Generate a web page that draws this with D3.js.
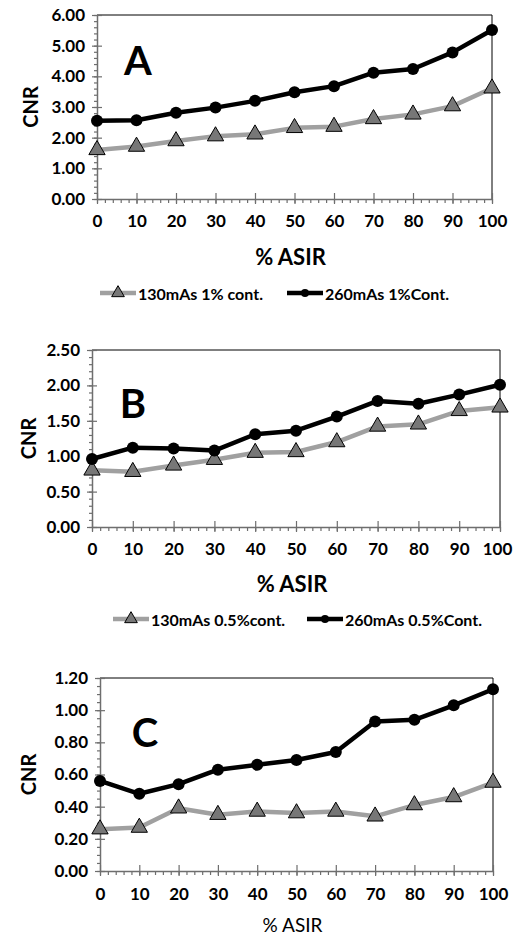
<!DOCTYPE html>
<html><head><meta charset="utf-8">
<script src="https://cdn.jsdelivr.net/npm/d3@7"></script>
<style>body{margin:0;background:#fff}svg{display:block}text{font-family:Lato,"Open Sans",sans-serif}</style>
</head><body>
<svg id="c" width="513" height="937"></svg>
<script>
const asir = [0,10,20,30,40,50,60,70,80,90,100];
const xTicks = [0,10,20,30,40,50,60,70,80,90,100];
// Panel A
const a130 = [1.60,1.71,1.89,2.05,2.11,2.32,2.36,2.61,2.76,3.03,3.61];
const a260 = [2.55,2.57,2.81,2.98,3.20,3.48,3.68,4.12,4.24,4.78,5.51];
const aYTicks = [0,1,2,3,4,5,6];
const aLegend = ["130mAs 1% cont.","260mAs 1%Cont."];
// Panel B
const b130 = [0.80,0.78,0.87,0.95,1.05,1.06,1.20,1.42,1.45,1.64,1.69];
const b260 = [0.96,1.12,1.11,1.08,1.31,1.36,1.56,1.78,1.74,1.87,2.01];
const bYTicks = [0,0.5,1,1.5,2,2.5];
const bLegend = ["130mAs 0.5%cont.","260mAs 0.5%Cont."];
// Panel C
const c130 = [0.26,0.27,0.39,0.35,0.37,0.36,0.37,0.34,0.41,0.46,0.55];
const c260 = [0.56,0.48,0.54,0.63,0.66,0.69,0.74,0.93,0.94,1.03,1.13];
const cYTicks = [0,0.2,0.4,0.6,0.8,1.0,1.2];

const svg = d3.select("#c");
const GRAY = "#a0a0a0", AX = "#6e6e6e";

function panel(o){
  const g = svg.append("g");
  const x = d3.scaleLinear().domain([0,100]).range([o.l,o.r]);
  const y = d3.scaleLinear().domain([0,o.ymax]).range([o.b,o.t]);
  g.append("line").attr("x1",o.l).attr("x2",o.r).attr("y1",o.t).attr("y2",o.t).attr("stroke","#000").attr("stroke-width",1);
  g.append("line").attr("x1",o.r).attr("x2",o.r).attr("y1",o.t).attr("y2",o.b).attr("stroke","#000").attr("stroke-width",1);
  const yMinor = d3.range(0, o.ymax+1e-9, o.minor);
  g.append("g").attr("transform",`translate(${o.l},0)`)
    .call(d3.axisLeft(y).tickValues(yMinor).tickSize(3).tickFormat(""))
    .call(s=>{s.select(".domain").remove();s.selectAll("line").attr("stroke",AX).attr("stroke-width",1.2);});
  const ya = g.append("g").attr("transform",`translate(${o.l},0)`)
    .call(d3.axisLeft(y).tickValues(o.yTicks).tickSizeInner(5).tickSizeOuter(0).tickPadding(7).tickFormat(d3.format(".2f")));
  ya.select(".domain").attr("stroke",AX).attr("stroke-width",1.5);
  ya.selectAll(".tick line").attr("stroke",AX).attr("stroke-width",1.2).attr("x2",5).attr("x1",-5);
  ya.selectAll("text").attr("font-size",o.tickFs).attr("font-weight","bold").attr("fill","#000");
  const xMinor = d3.range(0,101,2);
  g.append("g").attr("transform",`translate(0,${o.b})`)
    .call(d3.axisBottom(x).tickValues(xMinor).tickSize(4).tickFormat(""))
    .call(s=>{s.select(".domain").remove();s.selectAll("line").attr("stroke",AX).attr("stroke-width",1.2);});
  const xa = g.append("g").attr("transform",`translate(0,${o.b})`)
    .call(d3.axisBottom(x).tickValues(xTicks).tickSizeInner(5).tickSizeOuter(0).tickPadding(o.xPad));
  xa.select(".domain").attr("stroke",AX).attr("stroke-width",1.5);
  xa.selectAll(".tick line").attr("stroke",AX).attr("stroke-width",1.2).attr("y1",-6).attr("y2",5);
  xa.selectAll("text").attr("font-size",o.tickFs).attr("font-weight","bold").attr("fill","#000");
  if(o.lastDx) xa.selectAll("text").filter(d=>d===100).attr("dx",o.lastDx);
  g.append("text").attr("transform",`translate(${o.cnrX},${(o.t+o.b)/2}) rotate(-90)`)
    .attr("text-anchor","middle").attr("dominant-baseline","central")
    .attr("font-size",20).attr("font-weight","bold").text("CNR");
  g.append("text").attr("x",(o.l+o.r)/2-4).attr("y",o.xtY).attr("text-anchor","middle").attr("dominant-baseline","central")
    .attr("font-size",o.xtFs).attr("font-weight",o.xtBold?"bold":"normal").text("% ASIR");
  g.append("text").attr("x",o.letX).attr("y",o.letY).attr("text-anchor","middle").attr("dominant-baseline","central")
    .attr("font-size",40).attr("font-weight","bold").text(o.letter);
  const line = d3.line().x((d,i)=>x(asir[i])).y(d=>y(d));
  g.append("path").datum(o.s1).attr("d",line).attr("fill","none").attr("stroke",GRAY).attr("stroke-width",4.5).attr("stroke-linejoin","round");
  g.append("path").datum(o.s2).attr("d",line).attr("fill","none").attr("stroke","#000").attr("stroke-width",4.5).attr("stroke-linejoin","round");
  const tri = d3.symbol().type(d3.symbolTriangle).size(115);
  g.selectAll(".t").data(o.s1).join("path").attr("d",tri)
    .attr("transform",(d,i)=>`translate(${x(asir[i])},${y(d)})`)
    .attr("fill","#777").attr("stroke","#000").attr("stroke-width",1);
  g.selectAll(".c").data(o.s2).join("circle").attr("cx",(d,i)=>x(asir[i])).attr("cy",d=>y(d)).attr("r",6).attr("fill","#000");
  if(o.legend){
    const L=o.leg;
    const lg = g.append("g");
    lg.append("line").attr("x1",L.x1).attr("x2",L.x1+36).attr("y1",L.y).attr("y2",L.y).attr("stroke",GRAY).attr("stroke-width",4.5);
    lg.append("path").attr("d",d3.symbol().type(d3.symbolTriangle).size(70)).attr("transform",`translate(${L.x1+18},${L.y})`).attr("fill","#777").attr("stroke","#000").attr("stroke-width",1);
    lg.append("text").attr("x",L.x1+38).attr("y",L.y).attr("dominant-baseline","central").attr("font-size",16).attr("font-weight","bold").text(o.legend[0]);
    lg.append("line").attr("x1",L.x2).attr("x2",L.x2+36).attr("y1",L.y).attr("y2",L.y).attr("stroke","#000").attr("stroke-width",4.5);
    lg.append("circle").attr("cx",L.x2+18).attr("cy",L.y).attr("r",4).attr("fill","#000");
    lg.append("text").attr("x",L.x2+38).attr("y",L.y).attr("dominant-baseline","central").attr("font-size",16).attr("font-weight","bold").text(o.legend[1]);
  }
}

panel({l:97,r:492,t:15,b:199,ymax:6,minor:0.2,yTicks:aYTicks,s1:a130,s2:a260,letter:"A",letX:138,letY:60,
  cnrX:30,xtY:256,xtFs:22,xtBold:true,tickFs:17,xPad:11,legend:aLegend,leg:{x1:100,x2:287,y:293}});
panel({l:92,r:500,t:350,b:527,ymax:2.5,minor:0.1,yTicks:bYTicks,s1:b130,s2:b260,letter:"B",letX:133,letY:403,
  cnrX:28,xtY:583,xtFs:22,xtBold:true,tickFs:17,xPad:11,lastDx:-3,legend:bLegend,leg:{x1:113,x2:307,y:619}});
panel({l:100,r:493,t:678,b:871,ymax:1.2,minor:0.05,yTicks:cYTicks,s1:c130,s2:c260,letter:"C",letX:145,letY:732,
  cnrX:28,xtY:924,xtFs:19,xtBold:false,tickFs:17,xPad:12,legend:null});
</script>
</body></html>
